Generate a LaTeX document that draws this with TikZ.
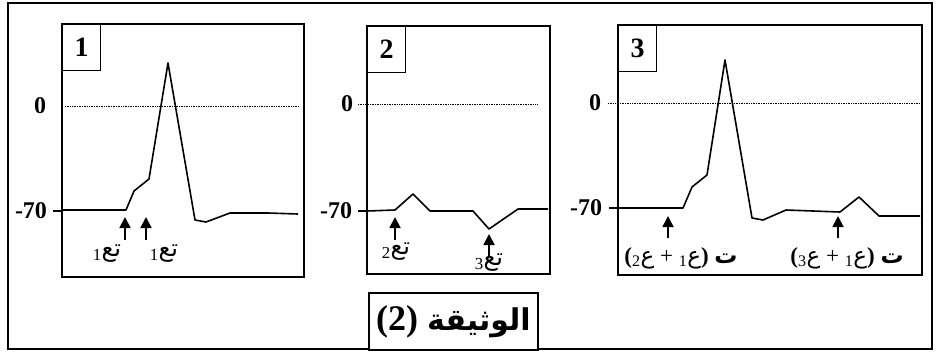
\documentclass[tikz,border=0pt]{standalone}
\usepackage{fontspec}
\setmainfont{Liberation Serif}
\newfontfamily\arabicfont[Script=Arabic]{DejaVu Sans}
\TeXXeTstate=1
\usetikzlibrary{arrows.meta}
\tikzset{
	frame/.style={line width=1.8pt},
	numbox/.style={draw, line width=1.4pt, anchor=north west, inner sep=0pt,
			minimum width=38pt, minimum height=46pt, font=\fontsize{28}{28}\selectfont\bfseries},
	axlab/.style={font=\fontsize{24}{24}\selectfont\bfseries, inner sep=0pt},
	zero/.style={densely dotted, line width=0.7pt},
	trace/.style={line width=1.6pt, line join=round},
	stim/.style={line width=1.8pt, -{Triangle[length=11pt,width=11pt]}},
	lbl/.style={font=\fontsize{24}{24}\selectfont, inner sep=0pt},
	sumlbl/.style={font=\fontsize{23}{23}\selectfont, inner sep=0pt},
	titlebox/.style={draw, line width=1.6pt, fill=white, minimum width=169pt,
			minimum height=57pt, font=\fontsize{36}{36}\selectfont\bfseries}
}
% stimulus labels
\newcommand{\taein}[1]{\textsubscript{#1}{\arabicfont\beginR تع\endR}}
\newcommand{\tsum}[2]{{\bfseries(}\textsubscript{#2}{\arabicfont ع} + \textsubscript{#1}{\arabicfont ع}{\bfseries)} {\arabicfont\bfseries ت}}

\begin{document}
\begin{tikzpicture}[x=1pt,y=-1pt]
	\useasboundingbox (0,0) rectangle (936,360);
	\draw[frame] (8,3) rectangle (932,349);

	% the three recordings
	\foreach \n/\l/\t/\r/\b in {1/62/24/304/277, 2/367/26/550/274, 3/618/25/922/275} {
			\draw[frame] (\l,\t) rectangle (\r,\b);
			\node[numbox] (num\n) at (\l,\t) {\n};
		}

	% potential scale
	\foreach \n/\l/\xa/\xb/\yz/\ym/\xz/\xm in {1/62/65/298/106/211/40/31, 2/367/358/537/104/211/347/336, 3/618/608/920/103/208/595/586} {
			\draw[zero] (\xa,\yz) -- (\xb,\yz);
			\node[axlab] (zero\n) at (\xz,\yz) {0};
			\node[axlab] (rest\n) at (\xm,\ym) {-70};
			\draw[line width=1.2pt] (\l-9,\ym) -- (\l,\ym);
		}

	\draw[trace] (62,210) -- (126,210) -- (134,191) -- (149,179) -- (168,63) -- (195,220)
		-- (206,222) -- (230,213) -- (268,213) -- (298,214);
	\draw[trace] (367,211) -- (395,210) -- (413,194) -- (430,211) -- (473,211)
		-- (489,229) -- (518,209) -- (548,209);
	\draw[trace] (618,208) -- (683,208) -- (692,187) -- (707,175) -- (725,60) -- (752,218)
		-- (763,220) -- (786,210) -- (840,212) -- (859,197) -- (879,216) -- (920,216);

	% stimuli
	\foreach \x/\ya/\yb in {125/240/217, 146/240/217, 395/240/217, 489/256/234, 668/238/216, 838/238/216}
	\draw[stim] (\x,\ya) -- (\x,\yb);

	\node[lbl] (s1a) at (107,254) {\taein{1}};
	\node[lbl] (s1b) at (164,254) {\taein{1}};
	\node[lbl] (s2a) at (396,252) {\taein{2}};
	\node[lbl] (s2b) at (489,263) {\taein{3}};
	\node[sumlbl] (s3a) at (681,258) {\tsum{1}{2}};
	\node[sumlbl] (s3b) at (847,258) {\tsum{1}{3}};

	\node[titlebox] (doc) at (453.5,321.5) {(2) {\arabicfont\fontsize{30}{30}\selectfont\beginR الوثيقة\endR}};
\end{tikzpicture}
\end{document}
